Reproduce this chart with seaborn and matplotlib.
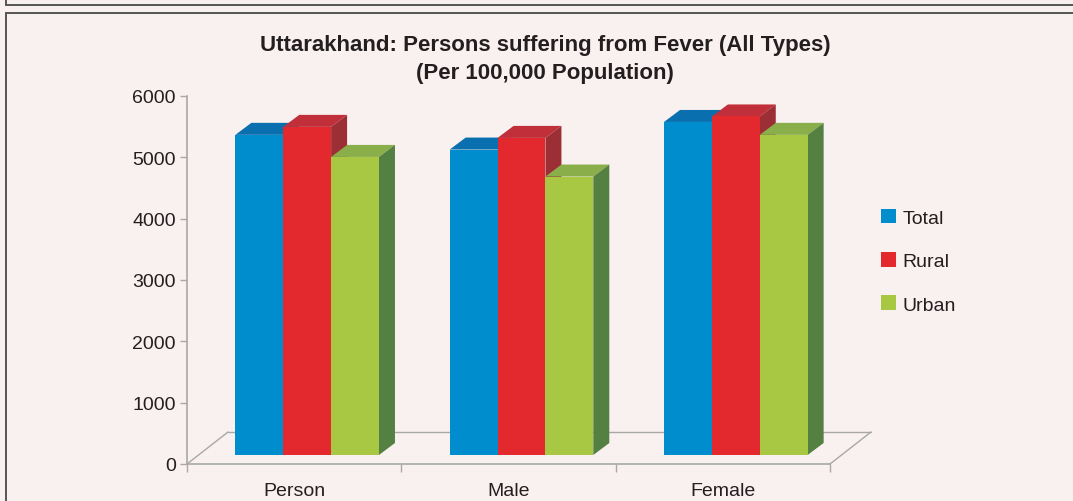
import pandas as pd
import matplotlib
matplotlib.use("Agg")
import matplotlib.pyplot as plt
import matplotlib.transforms as mtransforms
from matplotlib.patches import Polygon
from matplotlib.lines import Line2D
from matplotlib.ticker import FixedLocator
import seaborn as sns

# data
groups = ["Person", "Male", "Female"]
areas = ["Total", "Rural", "Urban"]
total = [5220, 4980, 5430]
rural = [5350, 5170, 5520]
urban = [4860, 4540, 5220]

front_cols = ["#008dce", "#e3292d", "#a8c843"]
top_cols = ["#0a6fae", "#c1303a", "#89ae4a"]
side_cols = ["#0a5f96", "#9b2f35", "#548042"]

bg = "#f9f1f0"
ink = "#231f20"
grey = "#a8a8a8"

df = pd.DataFrame({
    "group": groups * 3,
    "area": [a for a in areas for _ in groups],
    "value": total + rural + urban,
})

sns.set_theme(style="white")
plt.rcParams["font.family"] = ["Liberation Sans Narrow", "Liberation Sans", "DejaVu Sans"]

fig = plt.figure(figsize=(10.73, 5.02), dpi=100, facecolor=bg)
ax = fig.add_axes([187 / 1073, 37 / 502, 643 / 1073, 368 / 502])
ax.set_facecolor("none")

sns.barplot(
    data=df, x="group", y="value", hue="area", order=groups, hue_order=areas,
    palette=front_cols, saturation=1, width=0.67, errorbar=None,
    linewidth=0, legend=False, ax=ax,
)
ax.set_xlim(-0.5, 2.5)
ax.set_ylim(0, 6000)

# pixel sizes of the fake 3D depth
px_x = 643 / 3.0
px_y = 368 / 6000.0
ddx, ddy = 16 / px_x, 12 / px_y
shift = mtransforms.ScaledTranslation(13 / 100, 9 / 100, fig.dpi_scale_trans)
tr = ax.transData + shift

n = len(groups)
for i, bar in enumerate(ax.patches):
    k = i // n
    x0 = bar.get_x()
    w = bar.get_width()
    h = bar.get_height()
    bar.set_transform(tr)
    bar.set_zorder(3.5 + k)
    top = Polygon([(x0, h), (x0 + w, h), (x0 + w + ddx, h + ddy), (x0 + ddx, h + ddy)],
                  closed=True, facecolor=top_cols[k], edgecolor="none",
                  transform=tr, zorder=3 + k)
    side = Polygon([(x0 + w, 0), (x0 + w + ddx, ddy), (x0 + w + ddx, h + ddy), (x0 + w, h)],
                   closed=True, facecolor=side_cols[k], edgecolor="none",
                   transform=tr, zorder=3 + k)
    ax.add_patch(top)
    ax.add_patch(side)

# floor outline
back = mtransforms.ScaledTranslation(41 / 100, 32 / 100, fig.dpi_scale_trans)
fl = ax.transAxes + back
ax.plot([0, 1], [0, 0], color=grey, lw=1, transform=fl, clip_on=False, zorder=1)
for xa in (0, 1):
    p0 = ax.transAxes.transform((xa, 0))
    p1 = fl.transform((xa, 0))
    fig.add_artist(Line2D([p0[0], p1[0]], [p0[1], p1[1]], transform=None,
                          color=grey, lw=1, zorder=1))

sns.despine(ax=ax, top=True, right=True)
for s in ("left", "bottom"):
    ax.spines[s].set_color(grey)
    ax.spines[s].set_linewidth(1.2)

ax.set_yticks(range(0, 6001, 1000))
ax.tick_params(axis="y", length=5, width=1, color=grey, pad=3,
               labelsize=14, labelcolor=ink, left=True)
ax.xaxis.set_minor_locator(FixedLocator([-0.5, 0.5, 1.5, 2.5]))
ax.tick_params(axis="x", which="minor", length=6, width=1, color=grey, bottom=True)
ax.tick_params(axis="x", which="major", length=0, pad=13, labelsize=14, labelcolor=ink)
ax.set_xlabel("")
ax.set_ylabel("")

# legend
handles = [plt.Rectangle((0, 0), 1, 1, facecolor=c, edgecolor="none") for c in front_cols]
leg = fig.legend(handles, areas, loc="upper left", bbox_to_anchor=(863 / 1073, 1 - 192 / 502),
                 frameon=False, fontsize=14, handlelength=0.8, handleheight=0.8,
                 handletextpad=0.35, labelspacing=1.3, labelcolor=ink)

fig.text(545 / 1073, 1 - 45 / 502, "Uttarakhand: Persons suffering from Fever (All Types)",
         ha="center", va="center", fontsize=16, fontweight="bold", color=ink)
fig.text(545 / 1073, 1 - 74 / 502, "(Per 100,000 Population)",
         ha="center", va="center", fontsize=16, fontweight="bold", color=ink)

# page frame lines
frame = "#555555"
fig.add_artist(Line2D([6 / 1073, 1], [1 - 5.5 / 502] * 2, transform=fig.transFigure, color=frame, lw=1.4))
fig.add_artist(Line2D([6 / 1073, 6 / 1073], [1 - 5.5 / 502, 1], transform=fig.transFigure, color=frame, lw=1.4))
fig.add_artist(Line2D([6 / 1073, 1], [1 - 14 / 502] * 2, transform=fig.transFigure, color=frame, lw=1.4))
fig.add_artist(Line2D([6 / 1073, 6 / 1073], [0, 1 - 14 / 502], transform=fig.transFigure, color=frame, lw=1.4))

fig.savefig("out.png", dpi=100, facecolor=bg)
